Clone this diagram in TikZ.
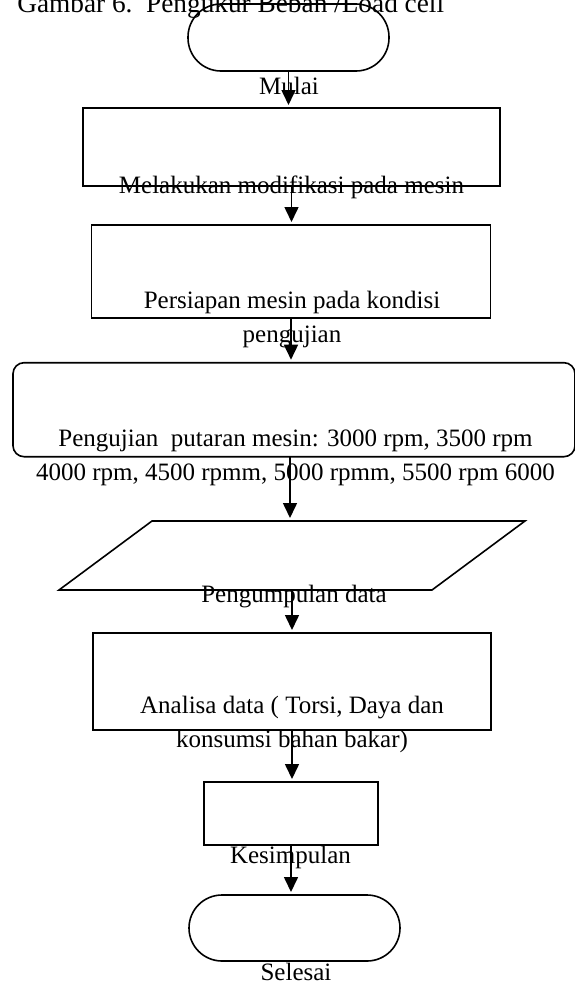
\documentclass[tikz,border=0pt]{standalone}
\usepackage{fontspec}
\setmainfont{Liberation Serif}
\usetikzlibrary{arrows.meta}

\tikzset{every picture/.style={line width=1.6pt}}
\tikzset{
	flowbox/.style={draw, rectangle, inner sep=0pt, outer sep=0pt},
	terminal/.style={flowbox, rounded corners=33pt},
	flowtext/.style={anchor=base, inner sep=0pt, align=center, font=\fontsize{25}{34}\selectfont},
	flowarrow/.style={-{Triangle[length=15pt,width=14pt]}, shorten >=3pt}}

\begin{document}
\begin{tikzpicture}[x=1pt,y=1pt,yscale=-1,xscale=1]
	\useasboundingbox (0,0) rectangle (575,985);

	% Text Node
	\node [anchor=base west, inner sep=0pt, font=\fontsize{27.3}{32}\selectfont] (judul) at (16.5,12.7) {Gambar 6.\ \ Pengukur Beban /Load cell};

	%Shape: Terminal
	\node [terminal, minimum width=201pt, minimum height=67pt] (mulai) at (288.5,37.5) {};
	%Shape: Rectangle
	\node [flowbox, minimum width=417.5pt, minimum height=78pt] (modifikasi) at (291.5,147) {};
	%Shape: Rectangle
	\node [flowbox, minimum width=399pt, minimum height=93pt] (persiapan) at (291,271.5) {};
	%Shape: Rounded Rectangle
	\node [flowbox, rounded corners=11pt, minimum width=562pt, minimum height=94pt] (pengujian) at (294,409.7) {};
	%Shape: Parallelogram
	\node [flowbox, draw=none, minimum width=373pt, minimum height=69pt] (data) at (292,555.5) {};
	\draw ([xshift=46.5pt]data.north west) -- ([xshift=46.5pt]data.north east) -- ([xshift=-46.5pt]data.south east) -- ([xshift=-46.5pt]data.south west) -- cycle;
	%Shape: Rectangle
	\node [flowbox, minimum width=397.5pt, minimum height=97pt] (analisa) at (292,681.5) {};
	%Shape: Rectangle
	\node [flowbox, minimum width=174pt, minimum height=63pt] (kesimpulan) at (291,813.5) {};
	%Shape: Terminal
	\node [terminal, minimum width=211pt, minimum height=66pt] (selesai) at (294.5,928) {};

	%Straight Lines
	\draw [flowarrow] (mulai.south) -- (mulai.south |- modifikasi.north);
	%Straight Lines
	\draw [flowarrow] (modifikasi.south) -- (modifikasi.south |- persiapan.north);
	%Straight Lines
	\draw [flowarrow] (persiapan.south) -- (persiapan.south |- pengujian.north);
	%Straight Lines
	\draw [flowarrow] ([xshift=-4pt]pengujian.south) -- ([xshift=-4pt]pengujian.south |- data.north);
	%Straight Lines
	\draw [flowarrow] (data.south) -- (data.south |- analisa.north);
	%Straight Lines
	\draw [flowarrow] (analisa.south) -- (analisa.south |- kesimpulan.north);
	%Straight Lines
	\draw [flowarrow] (kesimpulan.south) -- (kesimpulan.south |- selesai.north);

	% Text Node
	\node [flowtext] (tmulai) at (289,94) {Mulai};
	% Text Node
	\node [flowtext] (tmodifikasi) at (291.5,193) {Melakukan modifikasi pada mesin};
	% Text Node
	\node [flowtext] (tpersiapan) at (292,342) {Persiapan mesin pada kondisi\\pengujian};
	% Text Node
	\node [flowtext] (tpengujian) at (295.5,480) {Pengujian\ \ putaran mesin: 3000 rpm, 3500 rpm\\4000 rpm, 4500 rpmm, 5000 rpmm, 5500 rpm 6000};
	% Text Node
	\node [flowtext] (tdata) at (294,602) {Pengumpulan data};
	% Text Node
	\node [flowtext] (tanalisa) at (292,747) {Analisa data ( Torsi, Daya dan\\konsumsi bahan bakar)};
	% Text Node
	\node [flowtext] (tkesimpulan) at (290.5,863) {Kesimpulan};
	% Text Node
	\node [flowtext] (tselesai) at (296,980) {Selesai};

\end{tikzpicture}
\end{document}
